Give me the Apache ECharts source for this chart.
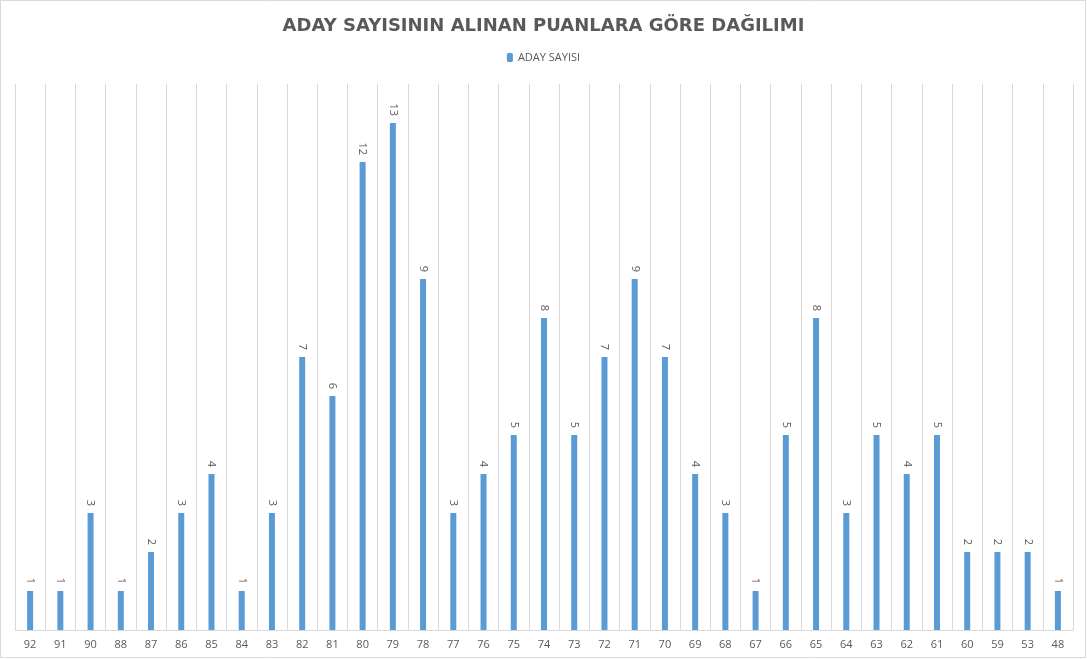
<!DOCTYPE html>
<html><head><meta charset="utf-8">
<script src="https://cdn.jsdelivr.net/npm/echarts@6/dist/echarts.min.js"></script>
<style>html,body{margin:0;padding:0;background:#fff}#c{width:1087px;height:659px}</style>
</head><body><div id="c"></div>
<script>
const categories = ['92','91','90','88','87','86','85','84','83','82','81','80','79','78','77','76','75','74','73','72','71','70','69','68','67','66','65','64','63','62','61','60','59','53','48'];
const adaySayisi = [1,1,3,1,2,3,4,1,3,7,6,12,13,9,3,4,5,8,5,7,9,7,4,3,1,5,8,3,5,4,5,2,2,2,1];
const titleText = 'ADAY SAYISININ ALINAN PUANLARA GÖRE DAĞILIMI';
const seriesName = 'ADAY SAYISI';

const chart = echarts.init(document.getElementById('c'), null, {renderer:'canvas'});
chart.setOption({
  animation:false,
  backgroundColor:'#fff',
  graphic:[{type:'rect',shape:{x:0.5,y:0.5,width:1085,height:657},style:{fill:'none',stroke:'#d9d9d9',lineWidth:1},silent:true}],
  title:{text:titleText,left:'center',top:12,textStyle:{fontFamily:'DejaVu Sans',fontWeight:'bold',fontSize:18,color:'#595959'}},
  legend:{data:[seriesName],top:47,left:'center',itemWidth:6,itemHeight:9,itemGap:4,textStyle:{fontFamily:'Open Sans',fontSize:11,color:'#595959'}},
  grid:{left:15,right:14,top:84,bottom:29,containLabel:false},
  xAxis:{type:'category',data:categories,
    axisLine:{lineStyle:{color:'#d9d9d9'}},axisTick:{show:false},
    splitLine:{show:true,lineStyle:{color:'#d9d9d9',width:1}},
    axisLabel:{color:'#595959',fontFamily:'Open Sans',fontSize:11,margin:9,interval:0}},
  yAxis:{type:'value',min:0,max:14,interval:1,show:false,splitLine:{show:false}},
  series:[{name:seriesName,type:'bar',data:adaySayisi,barWidth:6,
    itemStyle:{color:'#5b9bd5'},
    label:{show:true,position:'top',rotate:-90,align:'right',verticalAlign:'middle',distance:7,color:'#595959',fontFamily:'Open Sans',fontSize:11}}]
});
</script></body></html>
